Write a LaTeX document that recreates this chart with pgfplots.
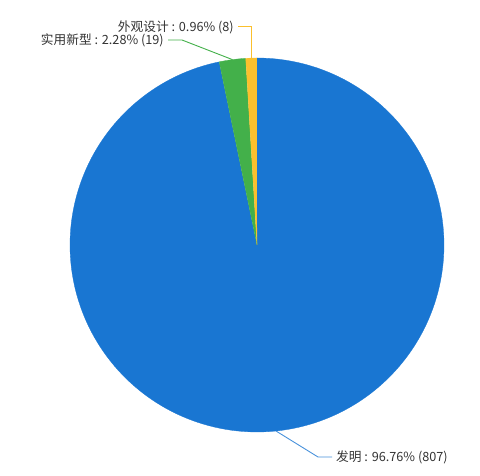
\documentclass[border=0pt]{standalone}
\usepackage{fontspec}
\setmainfont{Noto Sans CJK SC}
\usepackage{pgfplots}
\pgfplotsset{compat=1.18}
\definecolor{cblue}{HTML}{1976D2}
\definecolor{cgreen}{HTML}{43B04A}
\definecolor{corange}{HTML}{FBC02D}
\definecolor{ctext}{HTML}{333333}
\begin{document}
\begin{tikzpicture}
% values: 807, 19, 8 (total 834); clockwise from top
\pgfmathsetmacro{\tot}{807+19+8}
\pgfmathsetmacro{\aA}{90}
\pgfmathsetmacro{\aB}{90-360*(807/\tot)}
\pgfmathsetmacro{\aC}{\aB-360*(19/\tot)}
\pgfmathsetmacro{\aD}{\aC-360*(8/\tot)}
\begin{axis}[
  scale only axis, width=480pt, height=476pt,
  xmin=0, xmax=480, ymin=0, ymax=476,
  axis lines=none, ticks=none, clip=false,
]
\path (axis cs:0,0) rectangle (axis cs:480,476);
\addplot[draw=cblue, fill=cblue, line width=0.3pt, variable=\s, domain=-1:200, samples=202]
  ({257+(\s<0?0:187)*cos(\aA+(\aB-\aA)*max(0,\s)/200)},{231+(\s<0?0:187)*sin(\aA+(\aB-\aA)*max(0,\s)/200)});
\addplot[draw=cgreen, fill=cgreen, line width=0.3pt, variable=\s, domain=-1:20, samples=22]
  ({257+(\s<0?0:187)*cos(\aB+(\aC-\aB)*max(0,\s)/20)},{231+(\s<0?0:187)*sin(\aB+(\aC-\aB)*max(0,\s)/20)});
\addplot[draw=corange, fill=corange, line width=0.3pt, variable=\s, domain=-1:10, samples=12]
  ({257+(\s<0?0:187)*cos(\aC+(\aD-\aC)*max(0,\s)/10)},{231+(\s<0?0:187)*sin(\aC+(\aD-\aC)*max(0,\s)/10)});
% label lines
\addplot[corange, line width=1pt, no marks] coordinates {(251.4,418) (251.4,449) (238,449)};
\addplot[cgreen, line width=0.9pt, no marks] coordinates {(232.4,416.4) (182,436) (168,436)};
\addplot[cblue!80!white, line width=0.9pt, no marks] coordinates {(276,45) (318,19) (332,19)};
\node[anchor=east, text=ctext, font=\fontsize{12.7pt}{14pt}\selectfont, inner sep=0pt] at (axis cs:234,449) {外观设计 : 0.96\% (8)};
\node[anchor=east, text=ctext, font=\fontsize{12.7pt}{14pt}\selectfont, inner sep=0pt] at (axis cs:164,436) {实用新型 : 2.28\% (19)};
\node[anchor=west, text=ctext, font=\fontsize{12.7pt}{14pt}\selectfont, inner sep=0pt] at (axis cs:336,19) {发明 : 96.76\% (807)};
\end{axis}
\end{tikzpicture}
\end{document}
